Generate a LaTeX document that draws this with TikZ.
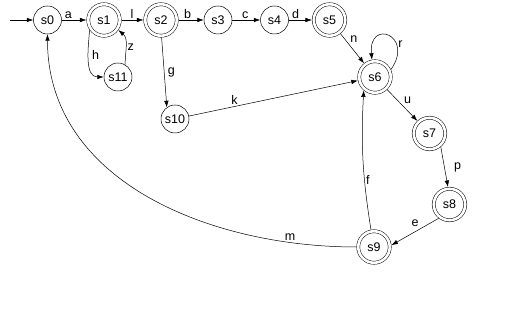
\documentclass[tikz,border=0pt]{standalone}
\usepackage{fontspec}
\setmainfont{Liberation Sans}
\usetikzlibrary{arrows.meta}

\begin{document}
\begin{tikzpicture}[x=1pt,y=1pt,font=\fontsize{12.5}{14}\selectfont,line width=0.5pt,
st/.style={circle,draw,minimum size=28pt,inner sep=0pt},
acc/.style={st,double,double distance=2.6pt,minimum size=31.5pt,outer sep=1.8pt},
arr/.style={-{Latex[length=6.5pt,width=4.5pt]}},
lbl/.style={inner sep=1.5pt}]
\useasboundingbox (0,0) rectangle (506,312);
\coordinate (init) at (10,292);
\node[st] (s0) at (47.5,292) {s0};
\node[acc] (s1) at (104,292) {s1};
\node[acc] (s2) at (161,292) {s2};
\node[st] (s3) at (218,292) {s3};
\node[st] (s4) at (274.5,292) {s4};
\node[acc] (s5) at (329.5,292) {s5};
\node[acc] (s6) at (375,235) {s6};
\node[acc] (s7) at (429.5,178.5) {s7};
\node[acc] (s8) at (449.5,107.5) {s8};
\node[acc] (s9) at (374,65) {s9};
\node[st] (s10) at (175,193) {s10};
\node[st] (s11) at (118,235) {s11};
\draw[arr] (init) -- (s0);
\draw[arr] (s0) -- node[lbl,above,pos=.27] {a} (s1);
\draw[arr] (s1) -- node[lbl,above,pos=.48] {l} (s2);
\draw[arr] (s2) -- node[lbl,above,pos=.36] {b} (s3);
\draw[arr] (s3) -- node[lbl,above,pos=.46] {c} (s4);
\draw[arr] (s4) -- node[lbl,above,pos=.3] {d} (s5);
\draw[arr] (s5) -- node[lbl,above right,pos=.35] {n} (s6);
\draw[arr] (s6.25) to[out=55,in=95,looseness=5] node[lbl,right,pos=.3] {r} (s6.100);
\draw[arr] (s6) -- node[lbl,above right,pos=.5] {u} (s7);
\draw[arr] (s7.-50) -- node[lbl,right=8pt,pos=.5] {p} (s8.95);
\draw[arr] (s8.232) -- node[lbl,above=3pt,pos=.5] {e} (s9.6);
\draw[arr] (s9.100) to[bend left=6] node[lbl,right,pos=.35] {f} (s6.230);
\draw[arr] (s9) to[out=180,in=-90] node[lbl,above,pos=.15] {m} (s0);
\draw[arr] (s1.215) to[out=-95,in=180] node[lbl,right=2pt,pos=.4] {h} (s11);
\draw[arr] (s11.60) to[out=90,in=-40] node[lbl,right,pos=.45] {z} (s1.-35);
\draw[arr] (s2.-88) -- node[lbl,right=2pt,pos=.5] {g} (s10.125);
\draw[arr] (s10) -- node[lbl,above,pos=.27] {k} (s6);
\end{tikzpicture}
\end{document}
